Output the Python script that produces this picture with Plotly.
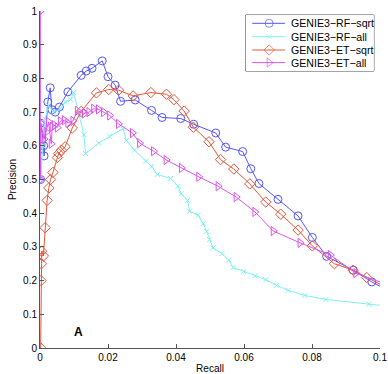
import plotly.graph_objects as go

# ---------------- data ----------------
rf_sqrt_recall = [0.0002, 0.0002, 0.0011, 0.0012, 0.0023, 0.0030, 0.0035, 0.0045, 0.0057, 0.0082,
                  0.0121, 0.0136, 0.0153, 0.0183, 0.0200, 0.0221, 0.0237, 0.0280, 0.0328, 0.0359,
                  0.0414, 0.0452, 0.0517, 0.0546, 0.0596, 0.0620, 0.0644, 0.0700, 0.0759, 0.0801,
                  0.0843, 0.0921, 0.0976, 0.1030]
rf_sqrt_prec = [0.500, 0.667, 0.600, 0.570, 0.730, 0.772, 0.707, 0.700, 0.715, 0.760,
                0.809, 0.822, 0.830, 0.852, 0.805, 0.780, 0.732, 0.736, 0.705, 0.684,
                0.681, 0.664, 0.638, 0.596, 0.583, 0.532, 0.488, 0.441, 0.392, 0.328,
                0.272, 0.231, 0.196, 0.167]

rf_all_recall = [0.0003, 0.0008, 0.0015, 0.0025, 0.0040, 0.0060, 0.0075, 0.0090, 0.0099, 0.0116,
                 0.0129, 0.0134, 0.0173, 0.0205, 0.0244, 0.0254, 0.0278, 0.0311, 0.0328, 0.0345,
                 0.0384, 0.0406, 0.0415, 0.0434, 0.0440, 0.0465, 0.0480, 0.0490, 0.0499, 0.0509,
                 0.0535, 0.0555, 0.0568, 0.0599, 0.0632, 0.0664, 0.0696, 0.0730, 0.0779, 0.0841,
                 0.0968, 0.1030]
rf_all_prec = [0.500, 0.600, 0.680, 0.720, 0.700, 0.710, 0.730, 0.737, 0.758, 0.690,
               0.633, 0.577, 0.608, 0.628, 0.651, 0.616, 0.587, 0.555, 0.539, 0.515,
               0.503, 0.480, 0.458, 0.438, 0.406, 0.394, 0.369, 0.346, 0.322, 0.297,
               0.280, 0.261, 0.239, 0.227, 0.214, 0.203, 0.186, 0.171, 0.156, 0.144,
               0.130, 0.124]

et_sqrt_recall = [0.0002, 0.0003, 0.0004, 0.0005, 0.0010, 0.0015, 0.0021, 0.0026, 0.0031, 0.0038,
                  0.0051, 0.0055, 0.0063, 0.0074, 0.0095, 0.0121, 0.0166, 0.0202, 0.0231, 0.0274,
                  0.0326, 0.0372, 0.0394, 0.0424, 0.0451, 0.0497, 0.0531, 0.0570, 0.0617, 0.0664,
                  0.0708, 0.0759, 0.0801, 0.0866, 0.0921, 0.0961, 0.1030]
et_sqrt_prec = [0.000, 0.200, 0.250, 0.287, 0.273, 0.357, 0.438, 0.475, 0.500, 0.521,
                0.565, 0.577, 0.587, 0.597, 0.653, 0.702, 0.757, 0.767, 0.765, 0.748,
                0.758, 0.753, 0.737, 0.703, 0.655, 0.612, 0.559, 0.531, 0.487, 0.433,
                0.397, 0.350, 0.303, 0.250, 0.231, 0.209, 0.173]

et_all_recall = [0.0001, 0.0001, 0.0002, 0.0012, 0.0018, 0.0025, 0.0033, 0.0036, 0.0043, 0.0051,
                 0.0060, 0.0072, 0.0082, 0.0097, 0.0110, 0.0131, 0.0144, 0.0158, 0.0172, 0.0187,
                 0.0205, 0.0231, 0.0272, 0.0293, 0.0334, 0.0371, 0.0416, 0.0467, 0.0524, 0.0577,
                 0.0632, 0.0686, 0.0765, 0.0854, 0.0929, 0.1030]
et_all_prec = [1.000, 0.500, 0.667, 0.620, 0.641, 0.671, 0.606, 0.656, 0.661, 0.654,
               0.673, 0.676, 0.668, 0.674, 0.704, 0.696, 0.700, 0.710, 0.708, 0.700,
               0.690, 0.665, 0.638, 0.608, 0.584, 0.558, 0.534, 0.508, 0.480, 0.448,
               0.404, 0.347, 0.312, 0.276, 0.222, 0.185]

series_names = ["GENIE3\u2212RF\u2212sqrt", "GENIE3\u2212RF\u2212all",
                "GENIE3\u2212ET\u2212sqrt", "GENIE3\u2212ET\u2212all"]

x_ticks = [0, 0.02, 0.04, 0.06, 0.08, 0.1]
x_tick_labels = ["0", "0.02", "0.04", "0.06", "0.08", "0.1"]
y_ticks = [0, 0.1, 0.2, 0.3, 0.4, 0.5, 0.6, 0.7, 0.8, 0.9, 1.0]
y_tick_labels = ["0", "0.1", "0.2", "0.3", "0.4", "0.5", "0.6", "0.7", "0.8", "0.9", "1"]

# ---------------- styles ----------------
FONT = "Liberation Sans, Arial, Helvetica, sans-serif"
styles = [
    dict(color="#5555ff", symbol="circle-open", size=8),
    dict(color="#80f0f0", symbol="x-thin-open", size=5),
    dict(color="#e8553a", symbol="diamond-open", size=8),
    dict(color="#dd55ee", symbol="triangle-right-open", size=8),
]
data = [(rf_sqrt_recall, rf_sqrt_prec), (rf_all_recall, rf_all_prec),
        (et_sqrt_recall, et_sqrt_prec), (et_all_recall, et_all_prec)]

# legend box layout (fractions of the legend box)
LEG_X_DOMAIN = [0.605, 0.982]
LEG_Y_DOMAIN = [0.822, 0.988]
LEG_ROWS = [0.852, 0.613, 0.375, 0.15]
LEG_LINE = [0.051, 0.183, 0.306]
LEG_TEXT_X = 0.335

fig = go.Figure()
for (xs, ys), name, st in zip(data, series_names, styles):
    fig.add_trace(go.Scatter(
        x=xs, y=ys, name=name, mode="lines+markers", showlegend=False,
        line=dict(color=st["color"], width=1),
        marker=dict(symbol=st["symbol"], size=st["size"], color=st["color"],
                    line=dict(color=st["color"], width=1)),
    ))

# manual legend (drawn on a hidden helper axis pair)
fig.add_shape(type="rect", xref="x2 domain", yref="y2 domain", x0=0, x1=1, y0=0, y1=1,
              line=dict(color="#444444", width=1), fillcolor="white", layer="below")
for name, st, row in zip(series_names, styles, LEG_ROWS):
    fig.add_trace(go.Scatter(
        x=LEG_LINE, y=[row] * 3, xaxis="x2", yaxis="y2", mode="lines+markers",
        showlegend=False, hoverinfo="skip",
        line=dict(color=st["color"], width=1),
        marker=dict(symbol=st["symbol"], size=[0, st["size"], 0], color=st["color"],
                    line=dict(color=st["color"], width=1)),
    ))
    fig.add_annotation(x=LEG_TEXT_X, y=row, xref="x2", yref="y2", text=name,
                       showarrow=False, xanchor="left", yanchor="middle",
                       font=dict(family=FONT, size=10.6, color="black"))

fig.add_annotation(x=0.0113, y=0.047, xref="x", yref="y", text="<b>A</b>",
                   showarrow=False, font=dict(family=FONT, size=12, color="black"))

axis_common = dict(showgrid=False, zeroline=False, showline=True, linecolor="#555555",
                   linewidth=1, ticks="inside", ticklen=4, tickcolor="#555555",
                   tickfont=dict(family=FONT, size=10, color="black"), mirror=False,
                   automargin=False)

fig.update_layout(
    width=388, height=374,
    margin=dict(l=40, r=8, t=11, b=26),
    paper_bgcolor="white", plot_bgcolor="white",
    font=dict(family=FONT, size=10, color="black"),
    xaxis=dict(range=[0, 0.1], tickvals=x_ticks, ticktext=x_tick_labels,
               title=dict(text="Recall", font=dict(family=FONT, size=10), standoff=2),
               **axis_common),
    yaxis=dict(range=[0, 1], tickvals=y_ticks, ticktext=y_tick_labels,
               title=dict(text="Precision", font=dict(family=FONT, size=10), standoff=4),
               **axis_common),
    xaxis2=dict(domain=LEG_X_DOMAIN, range=[0, 1], visible=False, fixedrange=True,
                anchor="y2"),
    yaxis2=dict(domain=LEG_Y_DOMAIN, range=[0, 1], visible=False, fixedrange=True,
                anchor="x2"),
    showlegend=False,
)

fig.write_html("out.html",
               config={"displayModeBar": False},
               post_script="document.body.style.margin='0';document.body.style.overflow='hidden';")
